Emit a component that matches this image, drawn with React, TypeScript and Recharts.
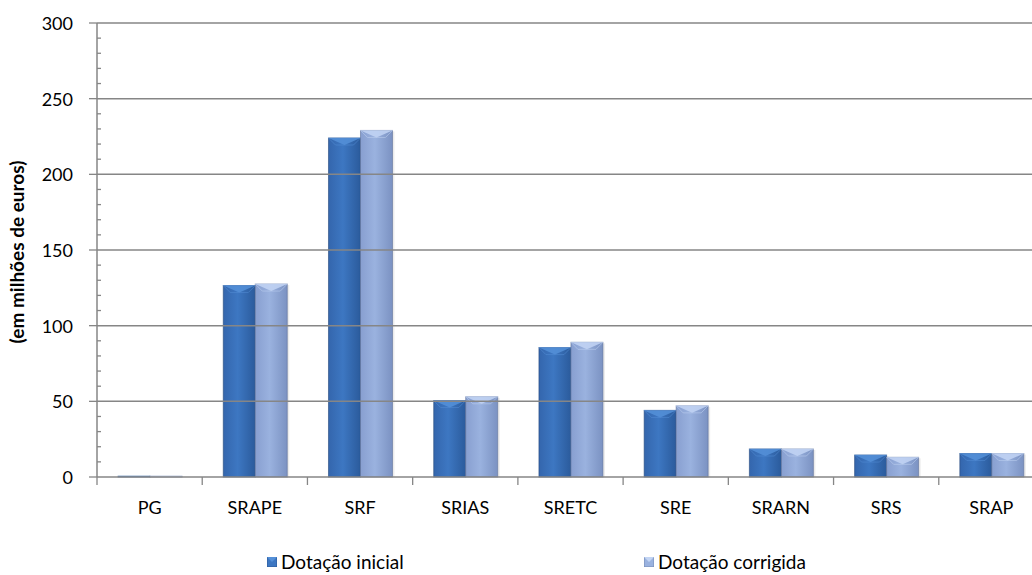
import { Bar, BarChart, Legend, ReferenceLine, XAxis, YAxis } from "recharts";

const CATEGORIES = ["PG", "SRAPE", "SRF", "SRIAS", "SRETC", "SRE", "SRARN", "SRS", "SRAP"];
const DOTACAO_INICIAL = [0.5, 126.5, 224, 50.5, 85.5, 44, 18.5, 14.5, 15.5];
const DOTACAO_CORRIGIDA = [0.5, 127.5, 229, 53, 89, 47, 18.5, 13, 15.5];

// marcas de 10 em 10; as de 50 em 50 levam número e linha de grelha
const Y_TICKS = [
  0, 10, 20, 30, 40, 50, 60, 70, 80, 90, 100, 110, 120, 130, 140, 150, 160, 170, 180, 190, 200,
  210, 220, 230, 240, 250, 260, 270, 280, 290, 300,
];
const Y_MAJOR = [50, 100, 150, 200, 250, 300];

const SERIES = [
  { key: "inicial", label: "Dotação inicial" },
  { key: "corrigida", label: "Dotação corrigida" },
];

const data = CATEGORIES.map((name, i) => ({
  name,
  inicial: DOTACAO_INICIAL[i],
  corrigida: DOTACAO_CORRIGIDA[i],
}));

const W = 1044;
const H = 575;
const Y_AXIS_W = 97;
const BAND = (W - Y_AXIS_W) / CATEGORIES.length;
const AXIS = "#868686";
const FONT = "Lato, 'Open Sans', sans-serif";

const TONES: Record<string, { stops: string[]; cap: string; edge: string }> = {
  inicial: { stops: ["#3466ad", "#3d77c2", "#2b5b9c"], cap: "#5590d8", edge: "#24487c" },
  corrigida: { stops: ["#889fd0", "#9ab2df", "#7b92c2"], cap: "#c3d5f4", edge: "#5f729a" },
};

// barra com faces laterais em degradê e tampa biselada
function BevelBar(props: any) {
  const { x, y, width, height, tone } = props;
  if (!(width > 0) || !(height > 0)) return null;
  const t = TONES[tone];
  const id = `grad-${tone}`;
  const b = Math.min(7, height / 2, width / 2);
  return (
    <g>
      <defs>
        <linearGradient id={id} x1="0" y1="0" x2="1" y2="0">
          <stop offset="0%" stopColor={t.stops[0]} />
          <stop offset="45%" stopColor={t.stops[1]} />
          <stop offset="100%" stopColor={t.stops[2]} />
        </linearGradient>
      </defs>
      <rect x={x + 2} y={y + 1} width={width} height={height - 1} fill="#000" opacity={0.08} />
      <rect x={x} y={y} width={width} height={height} fill={`url(#${id})`} stroke={t.edge} strokeOpacity={0.6} strokeWidth={1} />
      <polygon points={`${x},${y} ${x + width},${y} ${x + width / 2},${y + b}`} fill={t.cap} opacity={0.85} />
      <polygon points={`${x},${y} ${x + b},${y + b} ${x + width - b},${y + b} ${x + width},${y}`} fill="none" stroke={t.cap} strokeOpacity={0.5} />
    </g>
  );
}

function YTick(props: any) {
  const { x, y, payload } = props;
  const major = payload.value % 50 === 0;
  if (!major) {
    return <line x1={x} x2={x + 4} y1={y} y2={y} stroke={AXIS} strokeWidth={1.3} />;
  }
  return (
    <g>
      <line x1={x - 8} x2={x} y1={y} y2={y} stroke={AXIS} strokeWidth={1.3} />
      <text x={x - 24} y={y} textAnchor="end" dominantBaseline="central" fontSize={18} fontFamily={FONT} fill="#000">
        {payload.value}
      </text>
    </g>
  );
}

// marcas do eixo X ficam nas fronteiras entre categorias
function XTick(props: any) {
  const { x, y, payload, index } = props;
  const left = x - BAND / 2;
  return (
    <g>
      <line x1={left} x2={left} y1={y} y2={y + 8} stroke={AXIS} strokeWidth={1.3} />
      {index === CATEGORIES.length - 1 && (
        <line x1={x + BAND / 2} x2={x + BAND / 2} y1={y} y2={y + 8} stroke={AXIS} strokeWidth={1.3} />
      )}
      <text x={x} y={y + 30} textAnchor="middle" dominantBaseline="central" fontSize={18} fontFamily={FONT} fill="#000">
        {payload.value}
      </text>
    </g>
  );
}

function YLabel(props: any) {
  const vb = props.viewBox || { x: 0, y: 0, height: 0 };
  const cx = 16;
  const cy = vb.y + vb.height / 2 + 2;
  return (
    <text
      x={cx}
      y={cy}
      transform={`rotate(-90 ${cx} ${cy})`}
      textAnchor="middle"
      dominantBaseline="central"
      fontSize={19}
      fontWeight={700}
      fontFamily={FONT}
      fill="#000"
    >
      (em milhões de euros)
    </text>
  );
}

function LegendSwatch({ tone }: { tone: string }) {
  const t = TONES[tone];
  return (
    <svg width={10} height={10} style={{ marginRight: 4 }}>
      <rect x={0} y={0} width={10} height={10} fill={t.stops[1]} stroke={t.edge} strokeOpacity={0.6} />
      <polygon points="0,0 10,0 5,5" fill={t.cap} />
    </svg>
  );
}

const LEGEND_LEFT = [267, 644];

function LegendContent() {
  return (
    <div style={{ position: "relative", height: 58 }}>
      {SERIES.map((s, i) => (
        <div
          key={s.key}
          style={{
            position: "absolute",
            left: LEGEND_LEFT[i],
            top: 34,
            display: "flex",
            alignItems: "center",
            fontFamily: FONT,
            fontSize: 19,
            color: "#000",
            lineHeight: "22px",
          }}
        >
          <LegendSwatch tone={s.key} />
          {s.label}
        </div>
      ))}
    </div>
  );
}

export default function App() {
  return (
    <div style={{ position: "absolute", left: 0, top: 0, width: 1032, height: H, overflow: "hidden", background: "#fff" }}>
      <BarChart
        width={W}
        height={H}
        data={data}
        margin={{ top: 23, right: 0, left: 0, bottom: 0 }}
        barCategoryGap="20%"
        barGap={0}
      >
        <XAxis
          dataKey="name"
          height={40}
          interval={0}
          tickLine={false}
          tickSize={0}
          tickMargin={0}
          axisLine={{ stroke: AXIS, strokeWidth: 1.5 }}
          tick={<XTick />}
        />
        <YAxis
          width={Y_AXIS_W}
          domain={[0, 300]}
          ticks={Y_TICKS}
          interval={0}
          tickLine={false}
          tickSize={0}
          tickMargin={0}
          axisLine={{ stroke: AXIS, strokeWidth: 1.5 }}
          tick={<YTick />}
          label={<YLabel />}
        />
        {Y_MAJOR.map((v) => (
          <ReferenceLine key={v} y={v} stroke={AXIS} strokeWidth={1.5} />
        ))}
        {SERIES.map((s) => (
          <Bar
            key={s.key}
            dataKey={s.key}
            name={s.label}
            isAnimationActive={false}
            shape={(p: any) => <BevelBar {...p} tone={s.key} />}
          />
        ))}
        <Legend verticalAlign="bottom" height={58} content={<LegendContent />} />
      </BarChart>
    </div>
  );
}
